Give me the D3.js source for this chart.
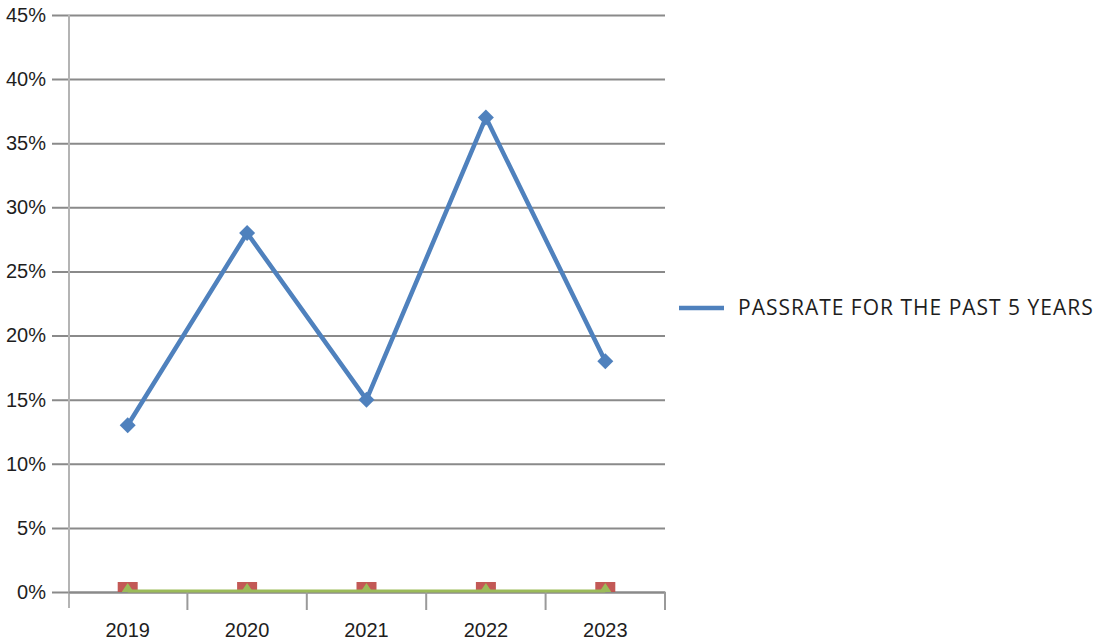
<!DOCTYPE html>
<html>
<head>
<meta charset="utf-8">
<script src="https://cdn.jsdelivr.net/npm/d3@7"></script>
<style>
  html, body { margin: 0; padding: 0; background: #fff; }
  svg { display: block; font-family: "Open Sans", "Noto Sans", sans-serif; }
</style>
</head>
<body>
<svg id="chart" width="1094" height="644"></svg>
<script>
// Pass rate by year, plus two empty series resting on zero
const years = ["2019", "2020", "2021", "2022", "2023"];
const passRate = [0.13, 0.28, 0.15, 0.37, 0.18];
const seriesTwo = [0, 0, 0, 0, 0];
const seriesThree = [0, 0, 0, 0, 0];
const yTicks = [0, 0.05, 0.10, 0.15, 0.20, 0.25, 0.30, 0.35, 0.40, 0.45];
const legendLabel = "PASSRATE FOR THE PAST 5 YEARS";

const svg = d3.select("#chart");
const plot = { left: 68, right: 665, top: 15, bottom: 592 };
const fontSize = "20px";

const x = d3.scaleBand().domain(years).range([plot.left, plot.right]);
const y = d3.scaleLinear().domain([0, 0.45]).range([plot.bottom, plot.top]);
const cx = d => x(d) + x.bandwidth() / 2;

// Horizontal gridlines with outer tick stubs
const yAxis = d3.axisLeft(y)
  .tickValues(yTicks)
  .tickFormat(d3.format(".0%"))
  .tickSize(-(plot.right - plot.left))
  .tickSizeOuter(0);

const gy = svg.append("g").attr("transform", `translate(${plot.left},0)`).call(yAxis);
gy.select(".domain").remove();
gy.selectAll(".tick line")
  .attr("x1", -16)
  .attr("stroke", "#8a8a8a")
  .attr("stroke-width", 2);
gy.selectAll(".tick text")
  .attr("x", -22)
  .attr("fill", "#1e1e1e")
  .style("font-size", fontSize);

// Vertical axis line
svg.append("line")
  .attr("x1", plot.left + 1).attr("x2", plot.left + 1)
  .attr("y1", plot.top).attr("y2", plot.bottom + 16)
  .attr("stroke", "#b4b4b4").attr("stroke-width", 2);

// Category axis with ticks between categories
const xAxis = d3.axisBottom(x).tickSize(0).tickPadding(31);
const gx = svg.append("g").attr("transform", `translate(0,${plot.bottom})`).call(xAxis);
gx.select(".domain").attr("stroke", "#8a8a8a").attr("stroke-width", 2);
gx.selectAll(".tick text").attr("fill", "#1e1e1e").style("font-size", fontSize);

const boundaries = years.map(d => x(d)).concat([plot.right]).slice(1);
svg.append("g").selectAll("line").data(boundaries).join("line")
  .attr("x1", d => d).attr("x2", d => d)
  .attr("y1", plot.bottom).attr("y2", plot.bottom + 18)
  .attr("stroke", "#9a9a9a").attr("stroke-width", 2);

// Clip the zero-level markers to the plotting area
svg.append("clipPath").attr("id", "plotClip")
  .append("rect")
  .attr("x", plot.left).attr("y", plot.top)
  .attr("width", plot.right - plot.left).attr("height", plot.bottom - plot.top);

const zeroLayer = svg.append("g").attr("clip-path", "url(#plotClip)");

// Second series: red square markers
zeroLayer.selectAll("rect.s2").data(years).join("rect")
  .attr("class", "s2")
  .attr("x", d => cx(d) - 10)
  .attr("y", (d, i) => y(seriesTwo[i]) - 10)
  .attr("width", 20).attr("height", 20)
  .attr("fill", "#c0504d")
  .attr("opacity", 0.95);

// Third series: green line with triangle markers
const line3 = d3.line().x((d, i) => cx(years[i])).y(d => y(d));
svg.append("path")
  .datum(seriesThree)
  .attr("d", line3)
  .attr("fill", "none")
  .attr("stroke", "#9bbb59")
  .attr("stroke-width", 3)
  .attr("transform", "translate(0,-1)");

zeroLayer.selectAll("path.s3").data(years).join("path")
  .attr("class", "s3")
  .attr("d", (d, i) => {
    const px = cx(d), py = y(seriesThree[i]);
    return `M${px - 6},${py} L${px},${py - 9} L${px + 6},${py} Z`;
  })
  .attr("fill", "#9bbb59");

// Main series: blue line with diamond markers
const line1 = d3.line().x((d, i) => cx(years[i])).y(d => y(d));
svg.append("path")
  .datum(passRate)
  .attr("d", line1)
  .attr("fill", "none")
  .attr("stroke", "#4f81bd")
  .attr("stroke-width", 4.5)
  .attr("stroke-linejoin", "round");

svg.append("g").selectAll("path").data(passRate).join("path")
  .attr("d", (d, i) => {
    const px = cx(years[i]), py = y(d);
    return `M${px},${py - 8} L${px + 8},${py} L${px},${py + 8} L${px - 8},${py} Z`;
  })
  .attr("fill", "#4f81bd");

// Legend
const legend = svg.append("g").attr("transform", "translate(679,308)");
legend.append("line")
  .attr("x1", 0).attr("x2", 45).attr("y1", 0).attr("y2", 0)
  .attr("stroke", "#4f81bd").attr("stroke-width", 4.5);
legend.append("text")
  .attr("x", 59).attr("y", 0).attr("dy", "0.35em")
  .attr("fill", "#1e1e1e")
  .style("font-size", "21px")
  .style("letter-spacing", "1px")
  .text(legendLabel);
</script>
</body>
</html>
